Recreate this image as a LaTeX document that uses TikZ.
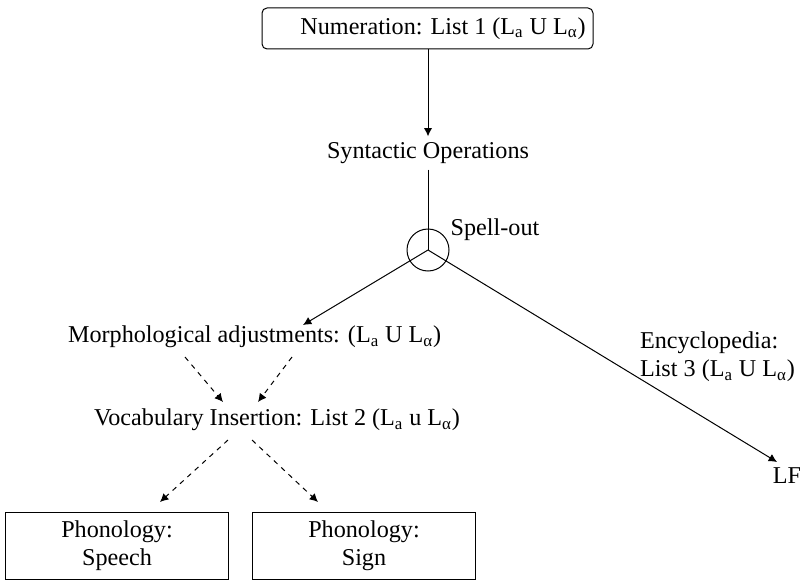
\documentclass[tikz,border=0pt]{standalone}
\usepackage{fontspec}
\setmainfont{Liberation Serif}
\usetikzlibrary{arrows.meta}
\newcommand{\Lsuba}{L\textsubscript{a}}
\newcommand{\Lsubalpha}{L\textsubscript{α}}
\begin{document}
\begin{tikzpicture}[x=0.6pt,y=-0.6pt,line width=0.6pt,
  every node/.style={font=\fontsize{14.5}{17}\selectfont},
  every edge/.style={draw,-{Latex[length=5pt,width=5pt]}},
  box/.style={draw,align=center,minimum width=133.8pt,minimum height=40.2pt}]

  % Raster
  \useasboundingbox (0,0) rectangle (800,581);
  \coordinate (pnum) at (427.5,28.5);
  \coordinate (psyn) at (428,153);
  \coordinate (pspell) at (428,250);
  \coordinate (pspelltext) at (495,230);
  \coordinate (pmorph) at (62,337);
  \coordinate (pvocab) at (88,420);
  \coordinate (pency) at (801,357);
  \coordinate (plf) at (787,476);
  \coordinate (pspeech) at (117,545.5);
  \coordinate (psign) at (364,545.5);
  \coordinate (mtip) at (303,325);
  \coordinate (lftip) at (777,462);
  \coordinate (d1a) at (185,357);
  \coordinate (d1b) at (223,402);
  \coordinate (d2a) at (292,357);
  \coordinate (d2b) at (258,402);
  \coordinate (d3a) at (228,440);
  \coordinate (d3b) at (160,502);
  \coordinate (d4a) at (252,440);
  \coordinate (d4b) at (318,502);

  % Knoten
  \node[draw,rounded corners=3pt,minimum width=198.6pt,minimum height=24.6pt] (num) at (pnum) {\hspace*{18.6pt}Numeration: List 1 (\Lsuba{} U \Lsubalpha)};
  \node (syn) at (psyn) {Syntactic Operations};
  \node[draw,circle,minimum size=25.2pt,inner sep=0pt] (spell) at (pspell) {};
  \node (spelltext) at (pspelltext) {Spell-out};
  \node[anchor=west] (morph) at (pmorph) {Morphological adjustments: (\Lsuba{} U \Lsubalpha)};
  \node[anchor=west] (vocab) at (pvocab) {Vocabulary Insertion: List 2 (\Lsuba{} u \Lsubalpha)};
  \node[anchor=east,align=left] (ency) at (pency) {Encyclopedia:\\List 3 (\Lsuba{} U \Lsubalpha)};
  \node (lf) at (plf) {LF};
  \node[box] (speech) at (pspeech) {Phonology:\\Speech};
  \node[box] (sign) at (psign) {Phonology:\\Sign};

  % Kanten
  \draw (num.south -| syn) edge (syn.north);
  \draw (syn.south) -- (spell.center);
  \draw (spell.center) edge (mtip);
  \draw (spell.center) edge (lftip);
  \draw (d1a) edge[dashed] (d1b);
  \draw (d2a) edge[dashed] (d2b);
  \draw (d3a) edge[dashed] (d3b);
  \draw (d4a) edge[dashed] (d4b);

\end{tikzpicture}
\end{document}
